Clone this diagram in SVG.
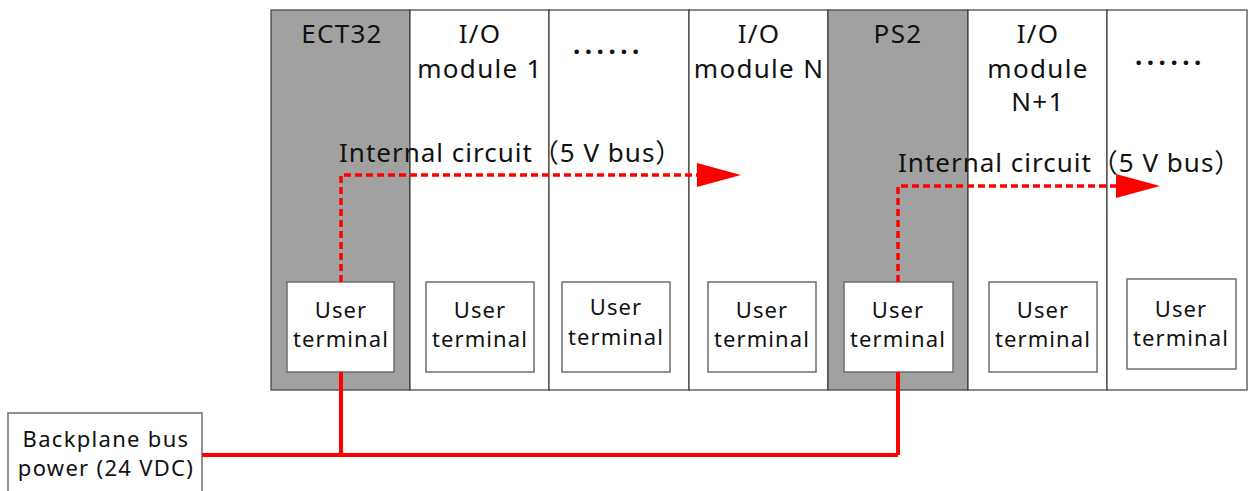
<svg xmlns="http://www.w3.org/2000/svg" width="1248" height="491" viewBox="0 0 1248 491">
  <style>
    .col { stroke: #3c3c3c; stroke-width: 1.2; }
    .gray { fill: #a0a1a0; }
    .white { fill: #ffffff; }
    .term { fill: #ffffff; stroke: #6e6e6e; stroke-width: 1.5; }
    .hdr { font-family: "Noto Sans", "Noto Sans CJK SC", sans-serif; font-size: 26px; letter-spacing: 1.3px; fill: #111; text-anchor: middle; }
    .lbl { font-family: "Noto Sans", "Noto Sans CJK SC", sans-serif; font-size: 26px; letter-spacing: 1px; fill: #111; }
    .ut { font-family: "Noto Sans", "Noto Sans CJK SC", sans-serif; font-size: 22px; letter-spacing: 1.1px; fill: #111; text-anchor: middle; }
    .dots { font-family: "Noto Sans", sans-serif; font-size: 26px; font-weight: bold; letter-spacing: 4.5px; fill: #111; }
    .bus5 { fill: none; stroke: #ff0000; stroke-width: 3.5; stroke-dasharray: 7 4; }
    .bus24 { fill: none; stroke: #ff0000; stroke-width: 4; }
  </style>
  <defs>
    <marker id="arrow" markerUnits="userSpaceOnUse" markerWidth="44" markerHeight="26" refX="0" refY="12" orient="auto">
      <path d="M0,0 L44,12 L0,24 Z" fill="#ff0000"/>
    </marker>
  </defs>

  <!-- backplane modules -->
  <g id="ect32">
    <rect class="gray col" x="271" y="10" width="139" height="380"/>
    <text class="hdr" x="342" y="43">ECT32</text>
    <rect class="term" x="287" y="282" width="107" height="90"/>
    <text class="ut" x="341" y="318">User</text>
    <text class="ut" x="341" y="347">terminal</text>
  </g>
  <g id="io-module-1">
    <rect class="white col" x="410" y="10" width="139" height="380"/>
    <text class="hdr" x="480" y="43">I/O</text>
    <text class="hdr" x="480" y="78">module 1</text>
    <rect class="term" x="426" y="282" width="108" height="90"/>
    <text class="ut" x="480" y="318">User</text>
    <text class="ut" x="480" y="347">terminal</text>
  </g>
  <g id="io-more-1">
    <rect class="white col" x="549" y="10" width="140" height="380"/>
    <text class="dots" x="573" y="54">......</text>
    <rect class="term" x="562" y="282" width="108" height="90"/>
    <text class="ut" x="616" y="315">User</text>
    <text class="ut" x="616" y="345">terminal</text>
  </g>
  <g id="io-module-n">
    <rect class="white col" x="689" y="10" width="139" height="380"/>
    <text class="hdr" x="759" y="43">I/O</text>
    <text class="hdr" x="759" y="78">module N</text>
    <rect class="term" x="708" y="282" width="108" height="90"/>
    <text class="ut" x="762" y="318">User</text>
    <text class="ut" x="762" y="347">terminal</text>
  </g>
  <g id="ps2">
    <rect class="gray col" x="828" y="10" width="140" height="380"/>
    <text class="hdr" x="898" y="43">PS2</text>
    <rect class="term" x="844" y="282" width="109" height="90"/>
    <text class="ut" x="898" y="318">User</text>
    <text class="ut" x="898" y="347">terminal</text>
  </g>
  <g id="io-module-n1">
    <rect class="white col" x="968" y="10" width="139" height="380"/>
    <text class="hdr" x="1038" y="43">I/O</text>
    <text class="hdr" x="1038" y="78">module</text>
    <text class="hdr" x="1038" y="111">N+1</text>
    <rect class="term" x="989" y="282" width="108" height="90"/>
    <text class="ut" x="1043" y="318">User</text>
    <text class="ut" x="1043" y="347">terminal</text>
  </g>
  <g id="io-more-2">
    <rect class="white col" x="1107" y="10" width="140" height="380"/>
    <text class="dots" x="1135" y="65">......</text>
    <rect class="term" x="1127" y="279" width="109" height="90"/>
    <text class="ut" x="1181" y="317">User</text>
    <text class="ut" x="1181" y="346">terminal</text>
  </g>

  <g id="power-supply">
    <rect x="8" y="413" width="194" height="90" fill="#ffffff" stroke="#6e6e6e" stroke-width="1.5"/>
    <text class="ut" x="106" y="447" style="letter-spacing:1.3px">Backplane bus</text>
    <text class="ut" x="106" y="476" style="letter-spacing:1.3px">power (24 VDC)</text>
  </g>

  <!-- bus wiring -->
  <g id="connectors">
    <path class="bus5" d="M341,282 V175 H697" marker-end="url(#arrow)"/>
    <path class="bus5" d="M898,282 V186 H1116" marker-end="url(#arrow)"/>
    <path class="bus24" d="M202,455 H898 M341,372 V455 M898,372 V455"/>
  </g>

  <g id="bus-labels">
    <text class="lbl" x="339" y="162">Internal circuit（5 V bus）</text>
    <text class="lbl" x="898" y="172">Internal circuit（5 V bus）</text>
  </g>
</svg>
